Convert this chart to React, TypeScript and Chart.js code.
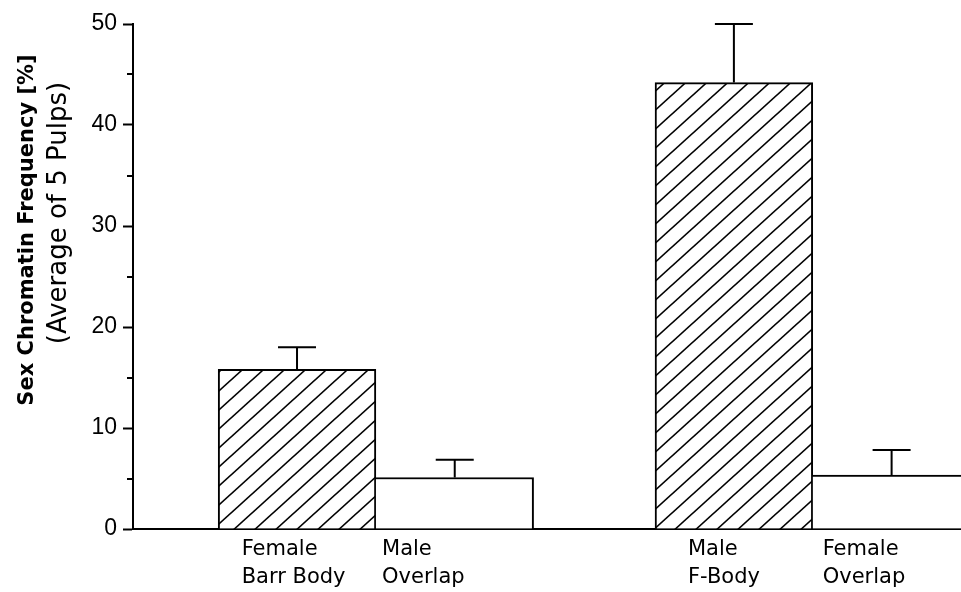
import React, { useEffect, useRef } from "react";
import { Chart, registerables } from "chart.js";

Chart.register(...registerables);

// ---- data ----
const categories: string[][] = [
  ["Female", "Barr Body"],
  ["Male", "Overlap"],
  ["Male", "F-Body"],
  ["Female", "Overlap"],
];
const barPositions = [1, 2, 3.77, 4.77];
const labelPositions = [0.649, 1.539, 3.479, 4.333];
const values = [15.8, 5.1, 44.2, 5.35];
const errors = [2.2, 1.75, 5.8, 2.47];
const hatched = [true, false, true, false];
const yTicks = [0, 10, 20, 30, 40, 50];
const yMinorTicks = [5, 15, 25, 35, 45];
const yTitle = "Sex Chromatin Frequency [%]";
const ySubtitle = "(Average of 5 Pulps)";
const xMin = -0.04;
const xMax = 5.21;

function makeHatch(): CanvasPattern | string {
  const w = 21;
  const h = 19;
  const c = document.createElement("canvas");
  c.width = w;
  c.height = h;
  const g = c.getContext("2d");
  if (!g) return "#fff";
  g.fillStyle = "#fff";
  g.fillRect(0, 0, w, h);
  g.strokeStyle = "#000";
  g.lineWidth = 1.6;
  for (const k of [0, 1, 2]) {
    g.beginPath();
    g.moveTo(w * (k - (h + 1) / h), h + 1);
    g.lineTo(w * (k + 1 / h), -1);
    g.stroke();
  }
  const p = g.createPattern(c, "repeat");
  return p || "#fff";
}

const errorBarPlugin = {
  id: "errorBars",
  afterDatasetsDraw(chart: any) {
    const ctx = chart.ctx;
    const meta = chart.getDatasetMeta(0);
    const ys = chart.scales.y;
    ctx.save();
    ctx.strokeStyle = "#000";
    ctx.lineWidth = 2;
    meta.data.forEach((el: any, i: number) => {
      const x = el.x;
      const yTop = el.y;
      const yErr = ys.getPixelForValue(values[i] + errors[i]);
      ctx.beginPath();
      ctx.moveTo(x, yTop);
      ctx.lineTo(x, yErr);
      ctx.moveTo(x - 19, yErr);
      ctx.lineTo(x + 19, yErr);
      ctx.stroke();
    });
    ctx.restore();
  },
};

const minorTickPlugin = {
  id: "minorTicks",
  afterDraw(chart: any) {
    const ctx = chart.ctx;
    const ys = chart.scales.y;
    const left = chart.chartArea.left;
    ctx.save();
    ctx.strokeStyle = "#000";
    ctx.lineWidth = 2;
    yMinorTicks.forEach((v) => {
      const y = Math.round(ys.getPixelForValue(v));
      ctx.beginPath();
      ctx.moveTo(left - 6, y);
      ctx.lineTo(left, y);
      ctx.stroke();
    });
    ctx.restore();
  },
};

const titlePlugin = {
  id: "yTitles",
  afterDraw(chart: any) {
    const ctx = chart.ctx;
    ctx.save();
    ctx.fillStyle = "#000";
    ctx.textAlign = "center";
    ctx.textBaseline = "middle";
    ctx.translate(28, 230);
    ctx.rotate(-Math.PI / 2);
    ctx.font = "bold 21px 'DejaVu Sans'";
    ctx.fillText(yTitle, 0, 0);
    ctx.restore();

    ctx.save();
    ctx.fillStyle = "#000";
    ctx.textAlign = "center";
    ctx.textBaseline = "middle";
    ctx.translate(59, 213);
    ctx.rotate(-Math.PI / 2);
    ctx.font = "26px 'DejaVu Sans'";
    ctx.fillText(ySubtitle, 0, 0);
    ctx.restore();
  },
};

export default function App() {
  const ref = useRef<HTMLCanvasElement | null>(null);

  useEffect(() => {
    if (!ref.current) return;
    const pattern = makeHatch();
    const chart = new Chart(ref.current, {
      type: "bar",
      data: {
        datasets: [
          {
            data: values.map((v, i) => ({ x: barPositions[i], y: v })),
            backgroundColor: hatched.map((h) => (h ? pattern : "#ffffff")),
            borderColor: "#000",
            borderWidth: hatched.map((h) =>
              h
                ? { top: 2, left: 2, right: 2, bottom: 0 }
                : { top: 2, left: 0, right: 2, bottom: 0 }
            ),
            borderSkipped: false,
            barPercentage: 1,
            categoryPercentage: 1,
            xAxisID: "x",
            yAxisID: "y",
          } as any,
        ],
      },
      options: {
        animation: false,
        responsive: true,
        maintainAspectRatio: false,
        layout: { padding: { top: 24, right: 0, left: 0, bottom: 0 } },
        plugins: {
          legend: { display: false },
          tooltip: { enabled: false },
          title: { display: false },
        },
        scales: {
          x: {
            type: "linear",
            display: false,
            offset: false,
            min: xMin,
            max: xMax,
            grid: { offset: false },
            afterBuildTicks: (s: any) => {
              s.ticks = barPositions.map((v) => ({ value: v }));
            },
          },
          xl: {
            type: "linear",
            position: "bottom",
            offset: false,
            min: xMin,
            max: xMax,
            z: 1,
            afterBuildTicks: (s: any) => {
              s.ticks = labelPositions.map((v) => ({ value: v }));
            },
            afterFit: (s: any) => {
              s.height = 63;
            },
            grid: { display: false, drawTicks: false, offset: false },
            border: { display: true, color: "#000", width: 2 },
            ticks: {
              autoSkip: false,
              maxRotation: 0,
              minRotation: 0,
              align: "start",
              padding: 7,
              color: "#000",
              font: { family: "'DejaVu Sans'", size: 21, lineHeight: "28px" },
              callback: (_v: any, i: number) => categories[i],
            },
          },
          y: {
            type: "linear",
            position: "left",
            min: 0,
            max: 50,
            z: 1,
            afterBuildTicks: (s: any) => {
              s.ticks = yTicks.map((v) => ({ value: v }));
            },
            afterFit: (s: any) => {
              s.width = 133;
            },
            grid: {
              drawOnChartArea: false,
              drawTicks: true,
              tickLength: 10,
              tickWidth: 2,
              tickColor: "#000",
            },
            border: { display: true, color: "#000", width: 2 },
            ticks: {
              padding: 6,
              color: "#000",
              font: { family: "'Liberation Sans'", size: 23 },
            },
          },
        } as any,
      },
      plugins: [errorBarPlugin, minorTickPlugin, titlePlugin],
    });
    return () => chart.destroy();
  }, []);

  return (
    <div
      style={{
        position: "fixed",
        left: 0,
        top: 0,
        width: "961px",
        height: "592px",
        background: "#fff",
      }}
    >
      <canvas ref={ref} />
    </div>
  );
}
